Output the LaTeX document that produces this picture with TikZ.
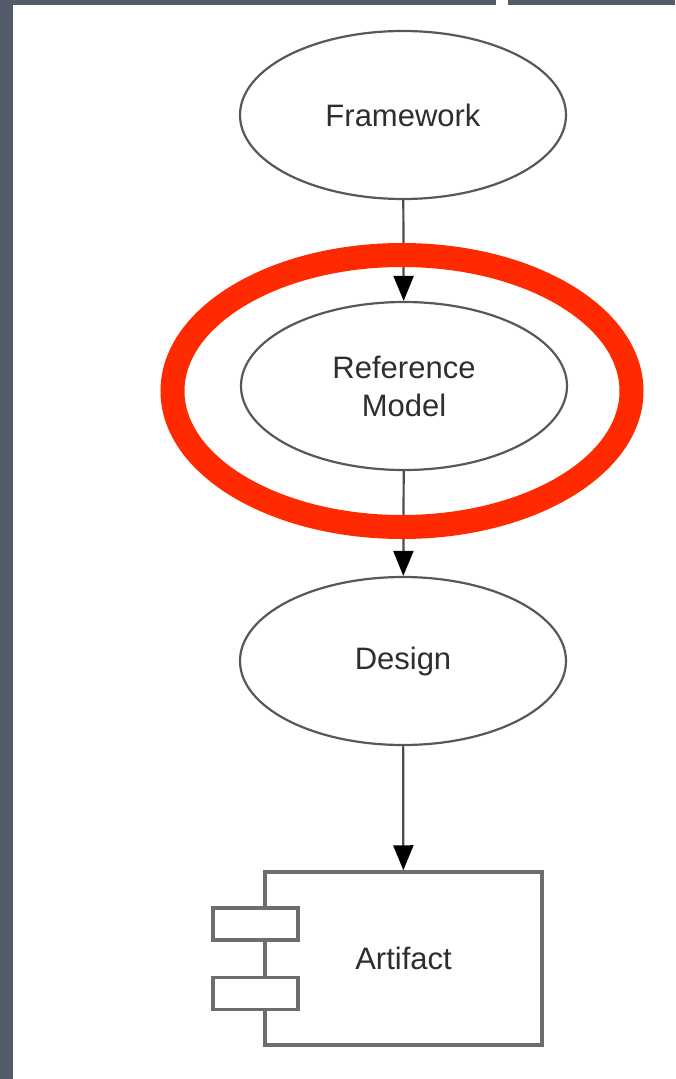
\documentclass[tikz,border=0pt]{standalone}
\usepackage{fontspec}
\setmainfont{Liberation Sans}
\usetikzlibrary{shapes.geometric,arrows.meta}
\definecolor{frame}{HTML}{535B6B}
\definecolor{ink}{HTML}{2E2E2E}
\definecolor{hl}{HTML}{FF2A00}
\begin{document}
\begin{tikzpicture}[x=1pt,y=-1pt,
  oval/.style={ellipse, draw=ink!80, line width=2.2pt, minimum width=326pt, minimum height=168pt, inner sep=0pt, align=center, font=\fontsize{31}{38}\selectfont, text=ink},
  flow/.style={draw=ink!85, line width=2.2pt, -{Triangle[length=25pt,width=20pt,color=black]}},
  port/.style={draw=ink!70, line width=3.5pt, fill=white, minimum width=85pt, minimum height=32pt, inner sep=0pt}
]
\useasboundingbox (0,0) rectangle (675,1079);
\fill[frame] (0,0) rectangle (675,1079);
\fill[white] (13,5) rectangle (675,1079);
\fill[white] (496,0) rectangle (508,5);
\node[oval] (fw) at (403,115) {Framework};
\node[oval] (rm) at (404,386) {Reference\\Model};
\node[oval] (ds) at (403,661) {Design};
\node[draw=ink!70, line width=3.5pt, minimum width=277pt, minimum height=173pt, inner sep=0pt, font=\fontsize{31}{38}\selectfont, text=ink] (af) at (403.5,958.5) {Artifact};
\node[port] (p1) at (255.5,924) {};
\node[port] (p2) at (255.5,993.5) {};
\draw[flow] (fw) -- (rm);
\draw[flow] (rm) -- (ds);
\draw[flow] (ds) -- (af);
\draw[hl, line width=24pt] (402,391) ellipse [x radius=229.5, y radius=136];
\end{tikzpicture}
\end{document}
